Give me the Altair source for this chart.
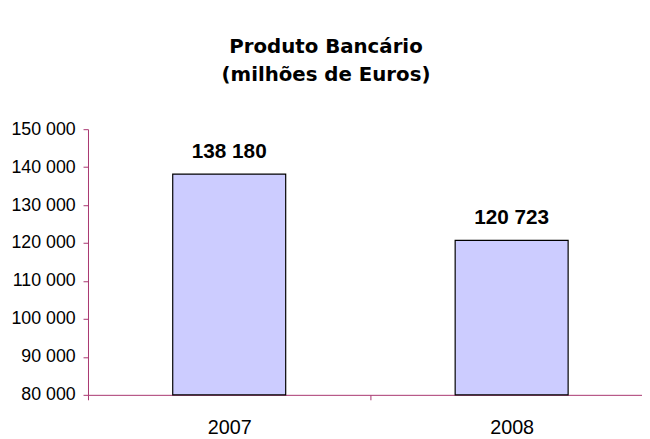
import altair as alt
import pandas as pd

years = ["2007", "2008"]
values = [138180, 120723]
labels = ["138 180", "120 723"]
y_ticks = [80000, 90000, 100000, 110000, 120000, 130000, 140000, 150000]

df = pd.DataFrame({"ano": years, "valor": values, "rotulo": labels})

AXIS_COLOR = "#A8356F"

x_enc = alt.X(
    "ano:N",
    sort=years,
    scale=alt.Scale(range=[0, 572], paddingInner=0, paddingOuter=0),
    axis=alt.Axis(
        title=None,
        labelAngle=0,
        labelFont="Liberation Sans",
        labelFontSize=20,
        labelColor="black",
        labelPadding=18,
        domainColor=AXIS_COLOR,
        tickColor=AXIS_COLOR,
        tickSize=5,
        tickBand="extent",
        grid=False,
    ),
)

y_enc = alt.Y(
    "valor:Q",
    scale=alt.Scale(domain=[80000, 150000], nice=False, zero=False),
    axis=alt.Axis(
        title=None,
        values=y_ticks,
        labelExpr="replace(format(datum.value, ','), ',', ' ')",
        labelFont="Liberation Sans",
        labelFontSize=18,
        labelColor="black",
        labelPadding=8,
        labelOverlap=False,
        domainColor=AXIS_COLOR,
        tickColor=AXIS_COLOR,
        tickSize=5,
        grid=False,
    ),
)

base = alt.Chart(df).encode(x=x_enc, y=y_enc)

bars = base.mark_bar(
    width=alt.RelativeBandSize(0.4),
    fill="#CCCCFF",
    stroke="black",
    strokeWidth=1.2,
).encode(y2=alt.datum(80000))

text = base.mark_text(
    font="Liberation Sans",
    fontSize=21,
    fontWeight="bold",
    baseline="alphabetic",
    dy=-16,
    color="black",
).encode(text="rotulo:N")

chart = alt.layer(bars, text).properties(
    width=544,
    height=269,
    title=alt.TitleParams(
        text=["Produto Bancário", "(milhões de Euros)"],
        font="DejaVu Sans",
        fontSize=20,
        fontWeight="bold",
        color="black",
        lineHeight=28,
        anchor="middle",
        dx=-31,
        offset=36,
    ),
    autosize=alt.AutoSizeParams(type="none"),
    padding={"left": 81, "top": 120, "right": 17, "bottom": 42},
    background="white",
).configure_view(stroke=None)

chart.save("out.html", embed_options={"renderer": "svg", "actions": False})
